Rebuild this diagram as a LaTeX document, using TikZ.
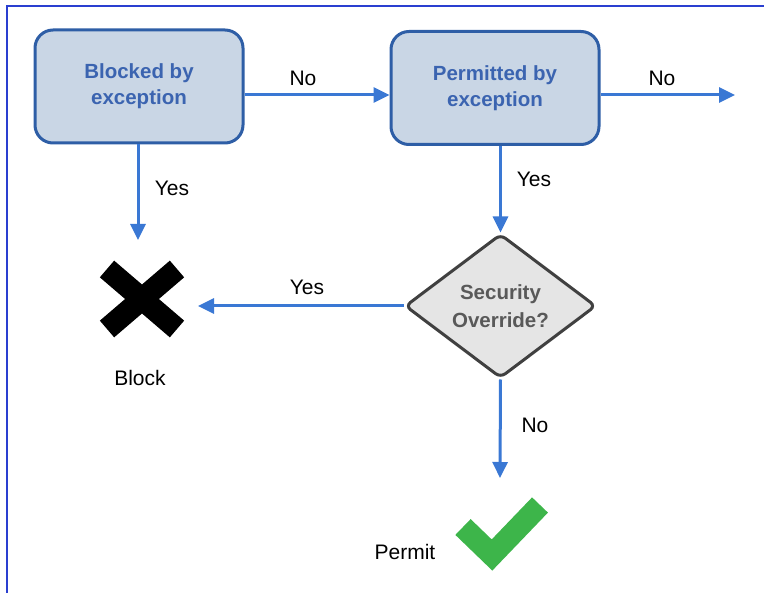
\documentclass[tikz,border=0pt]{standalone}
\usepackage{fontspec}
\setmainfont{Liberation Sans}
\usetikzlibrary{shapes.geometric,arrows.meta,calc}
\definecolor{arrowblue}{HTML}{3A78D4}
\definecolor{boxfill}{HTML}{C9D6E5}
\definecolor{boxline}{HTML}{2E5EA6}
\definecolor{boxtext}{HTML}{3B64B0}
\definecolor{framecol}{HTML}{2A3FD0}
\definecolor{checkgreen}{HTML}{3DB54A}
\begin{document}
\begin{tikzpicture}[x=1pt,y=-1pt,
  procbox/.style={draw=boxline,fill=boxfill,line width=3pt,rounded corners=18pt,
    minimum width=208pt,minimum height=113pt,align=center,text=boxtext,
    font=\fontsize{20.5}{26}\selectfont\bfseries},
  decision/.style={diamond,draw=black!75,fill=black!10,line width=3pt,rounded corners=6pt,
    minimum width=191pt,minimum height=144pt,inner sep=0pt,align=center,text=black!65,
    font=\fontsize{20.5}{28}\selectfont\bfseries},
  flow/.style={draw=arrowblue,line width=3pt,-{Triangle[length=16pt,width=15pt]}},
  lbl/.style={font=\fontsize{21}{24}\selectfont,text=black},
  bigstroke/.style={line width=22pt}]
\useasboundingbox (0,0) rectangle (764,593);
\draw[framecol,line width=2.5pt] (7,593) -- (7,6) -- (764,6);
\node[procbox] (blocked) at (139,86.5) {Blocked by\\exception};
\node[procbox] (permitted) at (495,88) {Permitted by\\exception};
\node[decision] (override) at (500.5,306) {Security\\Override?};
\coordinate (xmark) at (142,299);
\coordinate (blockin) at (138,240);
\coordinate (xright) at (198,306);
\coordinate (noend) at (735,95);
\coordinate (permitin) at (500,478);
\node[lbl] (blocklbl) at (140,378) {Block};
\node[lbl] (permitlbl) at (405,552) {Permit};
% X mark
\draw[bigstroke,black] ($(xmark)+(-35,-30)$) -- ($(xmark)+(35,30)$);
\draw[bigstroke,black] ($(xmark)+(35,-30)$) -- ($(xmark)+(-35,30)$);
% check mark
\draw[bigstroke,checkgreen,line join=miter] (463,527) -- (492,555) -- (540,505);
% connectors
\draw[flow] (blocked.east |- 0,95) -- (permitted.west |- 0,95);
\node[lbl] (no1) at (303,78) {No};
\draw[flow] (permitted.east |- 0,95) -- (noend);
\node[lbl] (no2) at (662,78) {No};
\draw[flow] (blocked.south -| blockin) -- (blockin);
\node[lbl] (yes1) at (172,188) {Yes};
\draw[flow] (permitted.south -| override.north) -- (override.north);
\node[lbl] (yes2) at (534,179) {Yes};
\draw[flow] (override.west) -- (xright);
\node[lbl] (yes3) at (307,287) {Yes};
\draw[flow] (override.south) -- (permitin);
\node[lbl] (no3) at (535,425) {No};
\end{tikzpicture}
\end{document}
